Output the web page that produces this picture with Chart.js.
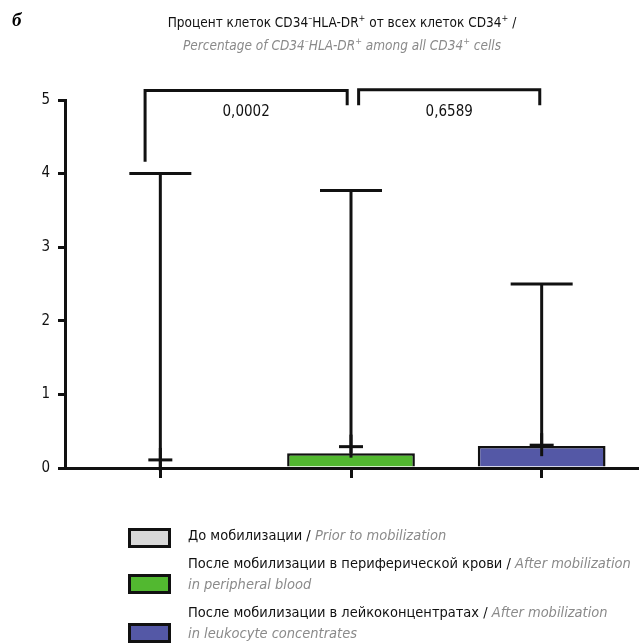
<!DOCTYPE html>
<html>
<head>
<meta charset="utf-8">
<script src="https://cdn.jsdelivr.net/npm/chart.js@4.4.1/dist/chart.umd.min.js"></script>
<style>
  html, body { margin: 0; padding: 0; background: #fff; }
  body { width: 639px; height: 643px; position: relative; overflow: hidden;
    font-family: "Liberation Sans Narrow", "DejaVu Sans Condensed", sans-serif; }
  #wrap { position: absolute; left: 0; top: 0; width: 639px; height: 643px; }
  .panel { position: absolute; left: 12px; top: 9px; font: bold italic 19px "Liberation Serif", serif; }
  .title { position: absolute; left: 0; width: 684px; top: 9px; text-align: center; font-size: 13.5px; line-height: 19px; color: #111; }
  .title .en { color: #8a8a8a; font-style: italic; }
  .legend { position: absolute; left: 128px; top: 525px; font-size: 14.5px; line-height: 21px; color: #111; white-space: nowrap; }
  .item { position: relative; padding-left: 60px; margin-bottom: 7px; }
  .item .box { position: absolute; left: 0; width: 37px; height: 14px; border: 3px solid #111; }
  .item .en { color: #8a8a8a; font-style: italic; }
</style>
</head>
<body>
<div id="wrap"><canvas id="chart" width="639" height="643"></canvas></div>
<div class="panel">б</div>
<div class="title">
  <div>Процент клеток CD34<sup style="font-size:9px">–</sup>HLA-DR<sup style="font-size:9px">+</sup> от всех клеток CD34<sup style="font-size:9px">+</sup> /</div>
  <div class="en">Percentage of CD34<sup style="font-size:9px">–</sup>HLA-DR<sup style="font-size:9px">+</sup> among all CD34<sup style="font-size:9px">+</sup> cells</div>
</div>
<div class="legend" id="legend"></div>
<script>
// groups and values
const groupsRu = ["До мобилизации", "После мобилизации в периферической крови", "После мобилизации в лейкоконцентратах"];
const groupsEn = ["Prior to mobilization", "After mobilization", "After mobilization"];
const groupsEn2 = ["", "in peripheral blood", "in leukocyte concentrates"];
const groupColors = ["#d9d9d9", "#52b830", "#5458a6"];
const boxTop = [0, 0.2, 0.3];
const maxValues = [4.0, 3.77, 2.5];
const meanValues = [0.11, 0.29, 0.31];
const yTicks = [0, 1, 2, 3, 4, 5];

// significance brackets (category positions, y values)
const bracketFrom = [-0.08, 1.04];
const bracketTo = [0.98, 1.99];
const bracketTop = [5.13, 5.14];
const legLeft = [4.16, 4.93];
const legRight = [4.93, 4.93];
const pValues = ["0,0002", "0,6589"];
const pLabelY = [4.84, 4.84];

const FONT = '"Liberation Sans Narrow", "DejaVu Sans Condensed", sans-serif';
const INK = "#111";

const legendBox = document.getElementById("legend");
groupsRu.forEach((name, i) => {
  const div = document.createElement("div");
  div.className = "item";
  div.innerHTML = `<span class="box" style="background:${groupColors[i]};top:${i ? 21 : 3}px"></span>
    ${name} / <span class="en">${groupsEn[i]}</span>${groupsEn2[i] ? `<br><span class="en">${groupsEn2[i]}</span>` : ""}`;
  legendBox.appendChild(div);
});

const whiskers = {
  id: "whiskers",
  afterDatasetsDraw(chart) {
    const { ctx, scales: { x, y } } = chart;
    ctx.save();
    ctx.strokeStyle = INK;
    ctx.lineWidth = 3;
    const seg = (x1, y1, x2, y2) => {
      ctx.beginPath();
      ctx.moveTo(x1, y1);
      ctx.lineTo(x2, y2);
      ctx.stroke();
    };

    groupsRu.forEach((g, i) => {
      const cx = x.getPixelForValue(i);
      const top = y.getPixelForValue(maxValues[i]);
      const base = y.getPixelForValue(boxTop[i]);
      seg(cx, top, cx, base);
      seg(cx - 31, top, cx + 31, top);
      const my = y.getPixelForValue(meanValues[i]);
      seg(cx - 12, my, cx + 12, my);
      seg(cx, my - 12, cx, my + 11);
    });

    pValues.forEach((p, i) => {
      const x1 = x.getPixelForValue(bracketFrom[i]);
      const x2 = x.getPixelForValue(bracketTo[i]);
      const ty = y.getPixelForValue(bracketTop[i]);
      ctx.beginPath();
      ctx.moveTo(x1, y.getPixelForValue(legLeft[i]));
      ctx.lineTo(x1, ty);
      ctx.lineTo(x2, ty);
      ctx.lineTo(x2, y.getPixelForValue(legRight[i]));
      ctx.stroke();
      ctx.fillStyle = INK;
      ctx.font = `15px ${FONT}`;
      ctx.textAlign = "center";
      ctx.textBaseline = "middle";
      ctx.fillText(p, (x1 + x2) / 2, y.getPixelForValue(pLabelY[i]));
    });
    ctx.restore();
  },
};

new Chart(document.getElementById("chart"), {
  type: "bar",
  data: {
    labels: groupsRu,
    datasets: [
      {
        data: boxTop,
        backgroundColor: groupColors,
        borderColor: INK,
        borderWidth: 2.5,
        borderSkipped: "start",
        barPercentage: 0.67,
        categoryPercentage: 1,
      },
    ],
  },
  options: {
    responsive: false,
    animation: false,
    layout: { padding: { left: 35, right: 2, top: 100, bottom: 155 } },
    plugins: { legend: { display: false }, tooltip: { enabled: false } },
    scales: {
      x: {
        grid: { offset: false, drawOnChartArea: false, tickLength: 10, color: INK, lineWidth: 3 },
        border: { color: INK, width: 3 },
        ticks: { callback: () => "" },
        afterFit: (s) => { s.height = 20; },
      },
      y: {
        min: 0,
        max: 5,
        afterBuildTicks: (s) => { s.ticks = yTicks.map((v) => ({ value: v })); },
        ticks: { padding: 8, color: INK, font: { family: FONT, size: 15 } },
        grid: { drawOnChartArea: false, tickLength: 7, color: INK, lineWidth: 3 },
        border: { color: INK, width: 3 },
        afterFit: (s) => { s.width = 30; },
      },
    },
  },
  plugins: [whiskers],
});
</script>
</body>
</html>
